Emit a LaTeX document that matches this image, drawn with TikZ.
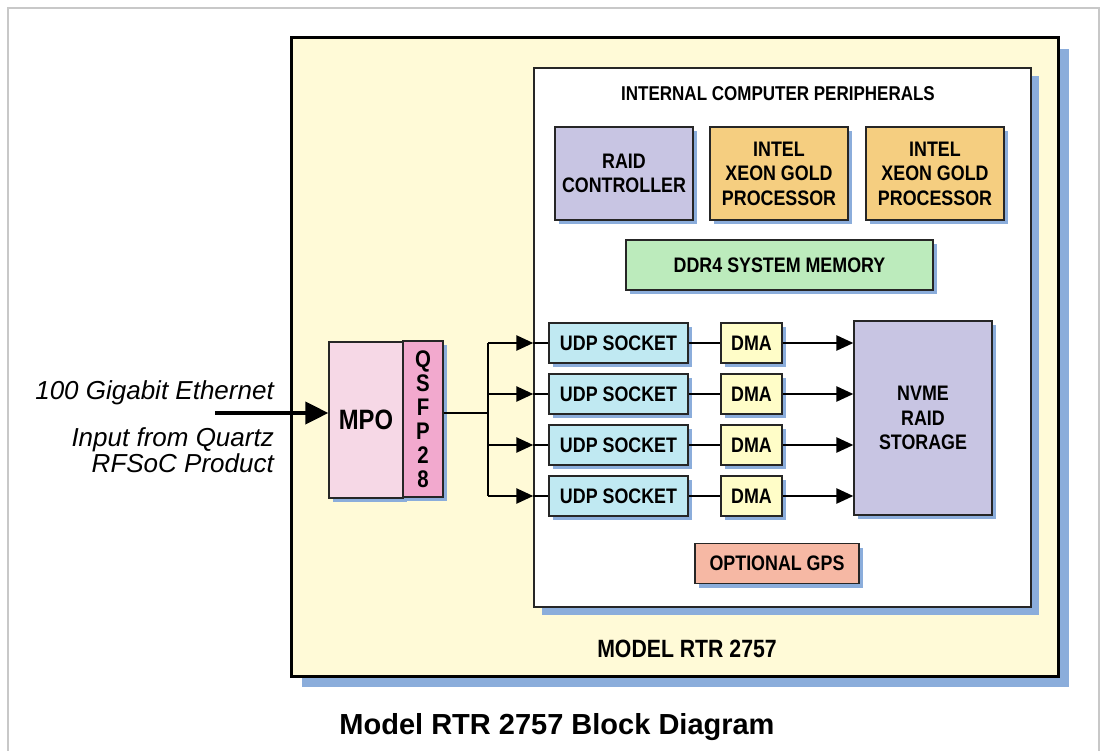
\documentclass[tikz,border=0pt]{standalone}
\usepackage{fontspec}
\setmainfont{Liberation Sans}
\newfontfamily\boxfont[FakeStretch=0.85]{Liberation Sans}
\usepackage{tikz}
\usetikzlibrary{arrows.meta,shadows}

\definecolor{framegray}{RGB}{200,200,200}
\definecolor{shadowblue}{RGB}{139,173,219}
\definecolor{rtryellow}{RGB}{255,250,215}
\definecolor{raidpurple}{RGB}{200,197,227}
\definecolor{xeonorange}{RGB}{245,206,128}
\definecolor{memgreen}{RGB}{188,235,188}
\definecolor{udpcyan}{RGB}{192,233,242}
\definecolor{dmayellow}{RGB}{255,253,200}
\definecolor{gpssalmon}{RGB}{246,184,164}
\definecolor{mpopink}{RGB}{246,216,230}
\definecolor{qsfppink}{RGB}{242,169,206}

\begin{document}
\begin{tikzpicture}[x=1pt, y=-1pt, every node/.style={inner sep=0pt},
    blk/.style={draw=black!85, line width=1.3pt, align=center,
      font=\boxfont\bfseries\fontsize{21}{24.5}\selectfont,
      general shadow={fill=shadowblue, shadow xshift=4pt, shadow yshift=-4pt}},
    flow/.style={line width=2.5pt, -{Triangle[length=17pt,width=15pt]}},
    wire/.style={line width=1.6pt}]
    \useasboundingbox (0,0) rectangle (1102,751);
    \draw [framegray, line width=1.5pt] (8,760) -- (8,8) -- (1099,8) -- (1099,760);
    \node [draw, line width=3pt, fill=rtryellow, minimum width=767pt, minimum height=638pt,
      general shadow={fill=shadowblue, shadow xshift=11pt, shadow yshift=-11pt}] (rtr) at (674.5,357) {};
    \node [draw=black!85, line width=1.4pt, fill=white, minimum width=497pt, minimum height=539pt,
      general shadow={fill=shadowblue, shadow xshift=8pt, shadow yshift=-8pt}] (periph) at (782.5,337.5) {};
    \node [anchor=base, font=\boxfont\bfseries\fontsize{20}{24}\selectfont] (periphlabel) at (778,101) {INTERNAL COMPUTER PERIPHERALS};
    \node [anchor=base, font=\boxfont\bfseries\fontsize{25}{28}\selectfont] (rtrlabel) at (687,657) {MODEL RTR 2757};
    \node [anchor=base, font=\bfseries\fontsize{29}{34}\selectfont] (title) at (557,734) {Model RTR 2757 Block Diagram};
    \node [blk, fill=raidpurple, minimum width=138pt, minimum height=93pt] (raid) at (624,173.5) {RAID\\CONTROLLER};
    \node [blk, fill=xeonorange, minimum width=138pt, minimum height=93pt] (xeon1) at (779,173.5) {INTEL\\XEON GOLD\\PROCESSOR};
    \node [blk, fill=xeonorange, minimum width=138pt, minimum height=93pt] (xeon2) at (935,173.5) {INTEL\\XEON GOLD\\PROCESSOR};
    \node [blk, fill=memgreen, minimum width=307pt, minimum height=50pt] (ddr) at (779.5,265) {DDR4 SYSTEM MEMORY};
    \node [blk, fill=udpcyan, minimum width=139pt, minimum height=40pt] (udp1) at (618.5,343) {UDP SOCKET};
    \node [blk, fill=udpcyan, minimum width=139pt, minimum height=40pt] (udp2) at (618.5,394) {UDP SOCKET};
    \node [blk, fill=udpcyan, minimum width=139pt, minimum height=40pt] (udp3) at (618.5,445) {UDP SOCKET};
    \node [blk, fill=udpcyan, minimum width=139pt, minimum height=40pt] (udp4) at (618.5,496) {UDP SOCKET};
    \node [blk, fill=dmayellow, minimum width=61pt, minimum height=40pt] (dma1) at (751.5,343) {DMA};
    \node [blk, fill=dmayellow, minimum width=61pt, minimum height=40pt] (dma2) at (751.5,394) {DMA};
    \node [blk, fill=dmayellow, minimum width=61pt, minimum height=40pt] (dma3) at (751.5,445) {DMA};
    \node [blk, fill=dmayellow, minimum width=61pt, minimum height=40pt] (dma4) at (751.5,496) {DMA};
    \node [blk, fill=raidpurple, minimum width=138pt, minimum height=194pt] (nvme) at (923,418) {NVME\\RAID\\STORAGE};
    \node [blk, fill=gpssalmon, minimum width=164pt, minimum height=40pt] (gps) at (777,563.5) {OPTIONAL GPS};
    \node [blk, fill=mpopink, minimum width=74pt, minimum height=156pt, font=\boxfont\bfseries\fontsize{28}{32}\selectfont] (mpo) at (366,420) {MPO};
    \node [blk, fill=qsfppink, minimum width=40pt, minimum height=156pt, font=\boxfont\bfseries\fontsize{24}{24}\selectfont] (qsfp) at (423,419) {Q\\S\\F\\P\\2\\8};
    \node [anchor=base east, font=\itshape\fontsize{26}{30}\selectfont] (ethlabel) at (274,399) {100 Gigabit Ethernet};
    \node [anchor=east, align=right, font=\itshape\fontsize{26}{26.5}\selectfont] (srclabel) at (274,450) {Input from Quartz\\RFSoC Product};
    \coordinate (eth) at (215,413);
    \coordinate (split) at (488,413);
    \draw [line width=4pt, -{Triangle[length=23pt,width=22pt]}] (eth) -- (eth -| mpo.west);
    \draw [line width=2.5pt] (qsfp.east |- split) -- (split);
    \draw [line width=2.5pt] (split |- udp1) -- (split |- udp4);
    \draw [flow] (split |- udp1) -- (udp1 -| periph.west);
    \draw [flow] (split |- udp2) -- (udp2 -| periph.west);
    \draw [flow] (split |- udp3) -- (udp3 -| periph.west);
    \draw [flow] (split |- udp4) -- (udp4 -| periph.west);
    \draw [wire] (udp1 -| periph.west) -- (udp1);
    \draw [wire] (udp2 -| periph.west) -- (udp2);
    \draw [wire] (udp3 -| periph.west) -- (udp3);
    \draw [wire] (udp4 -| periph.west) -- (udp4);
    \draw [wire] (udp1) -- (dma1);
    \draw [wire] (udp2) -- (dma2);
    \draw [wire] (udp3) -- (dma3);
    \draw [wire] (udp4) -- (dma4);
    \draw [flow] (dma1) -- (dma1 -| nvme.west);
    \draw [flow] (dma2) -- (dma2 -| nvme.west);
    \draw [flow] (dma3) -- (dma3 -| nvme.west);
    \draw [flow] (dma4) -- (dma4 -| nvme.west);
  \end{tikzpicture}
\end{document}
